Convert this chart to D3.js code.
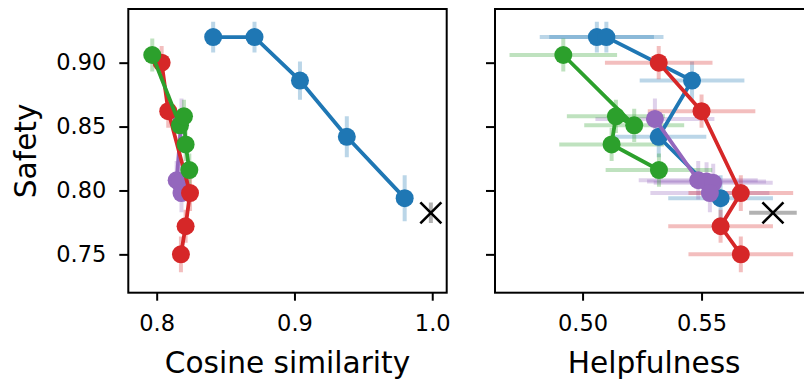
<html>
<head><meta charset="utf-8"></head>
<style>
  html, body { margin: 0; background: #fff; }
  svg text { font-family: "DejaVu Sans", sans-serif; fill: #000; }
</style>
<body>
<svg id="chart" width="804" height="383"></svg>

<script src="https://cdnjs.cloudflare.com/ajax/libs/d3/7.8.5/d3.min.js"></script>
<script>
  // values, one set of arrays per coloured run
  const blueCos = [0.841, 0.871, 0.904, 0.938, 0.980];
  const blueSafety = [0.920, 0.920, 0.886, 0.842, 0.794];
  const blueSafetyErr = [0.012, 0.012, 0.015, 0.016, 0.018];
  const blueHelp = [0.506, 0.510, 0.546, 0.532, 0.558];
  const blueHelpErr = [0.024, 0.024, 0.022, 0.020, 0.022];

  const purpleCos = [0.818, 0.8145, 0.816, 0.817, 0.818];
  const purpleSafety = [0.856, 0.808, 0.807, 0.806, 0.798];
  const purpleSafetyErr = [0.016, 0.015, 0.015, 0.015, 0.015];
  const purpleHelp = [0.5304, 0.5486, 0.5521, 0.5549, 0.5535];
  const purpleHelpErr = [0.025, 0.025, 0.025, 0.025, 0.025];

  const redCos = [0.8036, 0.8084, 0.8242, 0.8210, 0.8176];
  const redSafety = [0.900, 0.862, 0.798, 0.772, 0.750];
  const redSafetyErr = [0.013, 0.013, 0.014, 0.013, 0.014];
  const redHelp = [0.532, 0.550, 0.5665, 0.558, 0.5665];
  const redHelpErr = [0.0226, 0.0226, 0.022, 0.022, 0.022];

  const greenCos = [0.7968, 0.8169, 0.8198, 0.8210, 0.8237];
  const greenSafety = [0.906, 0.851, 0.858, 0.836, 0.816];
  const greenSafetyErr = [0.013, 0.013, 0.013, 0.013, 0.013];
  const greenHelp = [0.4919, 0.5217, 0.514, 0.5122, 0.5321];
  const greenHelpErr = [0.0226, 0.021, 0.0206, 0.022, 0.0224];

  // reference model (black cross)
  const refCos = 0.999;
  const refSafety = 0.7825;
  const refSafetyErr = 0.008;
  const refHelp = 0.580;
  const refHelpErr = 0.010;

  const safetyTicks = [0.75, 0.80, 0.85, 0.90];
  const cosTicks = [0.8, 0.9, 1.0];
  const helpTicks = [0.50, 0.55];

  const series = [
    {color: '#1f77b4', cos: blueCos, safety: blueSafety, sErr: blueSafetyErr, help: blueHelp, hErr: blueHelpErr},
    {color: '#9467bd', cos: purpleCos, safety: purpleSafety, sErr: purpleSafetyErr, help: purpleHelp, hErr: purpleHelpErr},
    {color: '#d62728', cos: redCos, safety: redSafety, sErr: redSafetyErr, help: redHelp, hErr: redHelpErr},
    {color: '#2ca02c', cos: greenCos, safety: greenSafety, sErr: greenSafetyErr, help: greenHelp, hErr: greenHelpErr}
  ];

  const svg = d3.select('#chart');
  svg.append('rect').attr('width', 804).attr('height', 383).attr('fill', '#fff');

  const plotTop = 9, plotBottom = 292.7;
  const y = d3.scaleLinear().domain([0.720, 0.942]).range([plotBottom, plotTop]);

  const panels = [
    {left: 128.3, right: 446.7, domain: [0.7794, 1.0105], ticks: cosTicks, fmt: '.1f',
     key: 'cos', label: 'Cosine similarity', showY: true},
    {left: 495, right: 813.4, domain: [0.4632, 0.597], ticks: helpTicks, fmt: '.2f',
     key: 'help', label: 'Helpfulness', showY: false}
  ];

  panels.forEach(p => {
    const x = d3.scaleLinear().domain(p.domain).range([p.left, p.right]);
    const g = svg.append('g');

    // clip to the axes box
    const clipId = 'clip-' + p.key;
    svg.append('clipPath').attr('id', clipId)
      .append('rect').attr('x', p.left).attr('y', plotTop)
      .attr('width', p.right - p.left).attr('height', plotBottom - plotTop);
    const plot = g.append('g').attr('clip-path', `url(#${clipId})`);

    // error bars first (light)
    series.forEach(s => {
      const xs = s[p.key];
      xs.forEach((xv, i) => {
        const yv = s.safety[i];
        plot.append('line')
          .attr('x1', x(xv)).attr('x2', x(xv))
          .attr('y1', y(yv - s.sErr[i])).attr('y2', y(yv + s.sErr[i]))
          .attr('stroke', s.color).attr('stroke-opacity', 0.3).attr('stroke-width', 4);
        if (p.key === 'help') {
          plot.append('line')
            .attr('x1', x(xv - s.hErr[i])).attr('x2', x(xv + s.hErr[i]))
            .attr('y1', y(yv)).attr('y2', y(yv))
            .attr('stroke', s.color).attr('stroke-opacity', 0.3).attr('stroke-width', 4);
        }
      });
    });

    // lines and markers
    series.forEach(s => {
      const pts = s[p.key].map((xv, i) => [x(xv), y(s.safety[i])]);
      plot.append('path')
        .attr('d', d3.line()(pts))
        .attr('fill', 'none').attr('stroke', s.color).attr('stroke-width', 3.8);
      plot.selectAll(null).data(pts).join('circle')
        .attr('cx', d => d[0]).attr('cy', d => d[1]).attr('r', 9)
        .attr('fill', s.color);
    });

    // reference cross with its grey bar
    const rx = x(p.key === 'cos' ? refCos : refHelp), ry = y(refSafety);
    if (p.key === 'cos') {
      plot.append('line').attr('x1', rx).attr('x2', rx)
        .attr('y1', y(refSafety - refSafetyErr)).attr('y2', y(refSafety + refSafetyErr))
        .attr('stroke', '#000').attr('stroke-opacity', 0.3).attr('stroke-width', 4);
    } else {
      plot.append('line').attr('x1', x(refHelp - refHelpErr)).attr('x2', x(refHelp + refHelpErr))
        .attr('y1', ry).attr('y2', ry)
        .attr('stroke', '#000').attr('stroke-opacity', 0.3).attr('stroke-width', 4);
    }
    const c = 10.5;
    plot.append('path')
      .attr('d', `M${rx - c},${ry - c}L${rx + c},${ry + c}M${rx - c},${ry + c}L${rx + c},${ry - c}`)
      .attr('stroke', '#000').attr('stroke-width', 2.6).attr('fill', 'none');

    // axes
    const xAxis = g.append('g').attr('transform', `translate(0,${plotBottom})`)
      .call(d3.axisBottom(x).tickValues(p.ticks).tickFormat(d3.format(p.fmt))
        .tickSize(8).tickPadding(14));
    const yAxis = g.append('g').attr('transform', `translate(${p.left},0)`)
      .call(d3.axisLeft(y).tickValues(safetyTicks).tickFormat(p.showY ? d3.format('.2f') : '')
        .tickSize(9).tickPadding(13));
    [xAxis, yAxis].forEach(a => {
      a.select('.domain').remove();
      a.selectAll('line').attr('stroke', '#000').attr('stroke-width', 2);
      a.selectAll('text').attr('font-size', 22.5).attr('font-family', '"DejaVu Sans", sans-serif');
    });

    // spines
    g.append('rect').attr('x', p.left).attr('y', plotTop)
      .attr('width', p.right - p.left).attr('height', plotBottom - plotTop)
      .attr('fill', 'none').attr('stroke', '#000').attr('stroke-width', 2);

    g.append('text')
      .attr('x', (p.left + p.right) / 2).attr('y', 373)
      .attr('text-anchor', 'middle').attr('font-size', 29.6)
      .text(p.label);
  });

  svg.append('text')
    .attr('transform', `translate(36,${(plotTop + plotBottom) / 2}) rotate(-90)`)
    .attr('text-anchor', 'middle').attr('font-size', 29.6)
    .text('Safety');
</script>
</body>
</html>
